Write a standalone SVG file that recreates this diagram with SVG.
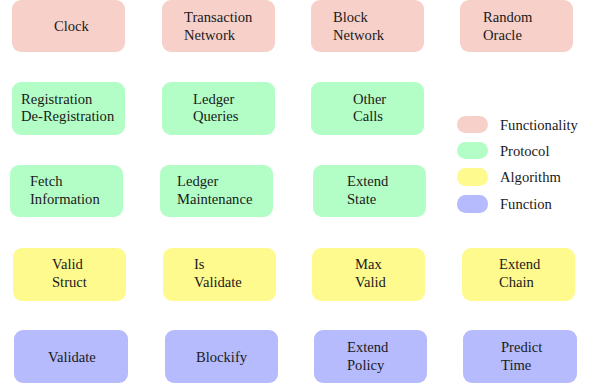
<svg xmlns="http://www.w3.org/2000/svg" width="596" height="390" viewBox="0 0 596 390">
<style>
rect{rx:9px;ry:9px}
.f{fill:#f6d0c9}
.p{fill:#b3fec6}
.a{fill:#fffa8e}
.u{fill:#b5bbfd}
text{font-family:"Liberation Serif","Times New Roman",serif;font-size:14.6px;fill:#1a1a1a}
.lg{rx:8.5px;ry:8.5px}
</style>
<g id="connectors"/>
<g id="clock"><rect class="f" x="12" y="0" width="113" height="52"/><text x="54" y="31">Clock</text></g>
<g id="transaction-network"><rect class="f" x="162" y="0" width="113" height="52"/><text x="184" y="22">Transaction</text><text x="184" y="39.5">Network</text></g>
<g id="block-network"><rect class="f" x="311" y="0" width="113" height="52"/><text x="333" y="22">Block</text><text x="333" y="39.5">Network</text></g>
<g id="random-oracle"><rect class="f" x="460" y="0" width="113" height="52"/><text x="483" y="22">Random</text><text x="483" y="39.5">Oracle</text></g>

<g id="registration"><rect class="p" x="12" y="82" width="113" height="53"/><text x="21" y="104">Registration</text><text x="21" y="121">De-Registration</text></g>
<g id="ledger-queries"><rect class="p" x="162" y="82" width="113" height="53"/><text x="193" y="104">Ledger</text><text x="193" y="121">Queries</text></g>
<g id="other-calls"><rect class="p" x="311" y="82" width="113" height="53"/><text x="353" y="104">Other</text><text x="353" y="121">Calls</text></g>

<g id="fetch-information"><rect class="p" x="10" y="165" width="113" height="52"/><text x="30" y="186">Fetch</text><text x="30" y="203.5">Information</text></g>
<g id="ledger-maintenance"><rect class="p" x="160" y="165" width="113" height="52"/><text x="177" y="186">Ledger</text><text x="177" y="203.5">Maintenance</text></g>
<g id="extend-state"><rect class="p" x="313" y="165" width="113" height="52"/><text x="347" y="186">Extend</text><text x="347" y="203.5">State</text></g>

<g id="valid-struct"><rect class="a" x="13" y="248" width="113" height="53"/><text x="52" y="269">Valid</text><text x="52" y="287">Struct</text></g>
<g id="is-validate"><rect class="a" x="163" y="248" width="113" height="53"/><text x="194" y="269">Is</text><text x="194" y="287">Validate</text></g>
<g id="max-valid"><rect class="a" x="312" y="248" width="113" height="53"/><text x="355" y="269">Max</text><text x="355" y="287">Valid</text></g>
<g id="extend-chain"><rect class="a" x="462" y="248" width="113" height="53"/><text x="499" y="269">Extend</text><text x="499" y="287">Chain</text></g>

<g id="validate"><rect class="u" x="14" y="330" width="114" height="53"/><text x="48" y="362">Validate</text></g>
<g id="blockify"><rect class="u" x="165" y="330" width="113" height="53"/><text x="196" y="362">Blockify</text></g>
<g id="extend-policy"><rect class="u" x="314" y="330" width="113" height="53"/><text x="347" y="352">Extend</text><text x="347" y="370">Policy</text></g>
<g id="predict-time"><rect class="u" x="463" y="330" width="114" height="53"/><text x="501" y="352">Predict</text><text x="501" y="370">Time</text></g>

<g id="legend">
<rect class="f lg" x="457" y="116" width="31" height="17"/><text x="500" y="130">Functionality</text>
<rect class="p lg" x="457" y="142" width="31" height="17"/><text x="500" y="156">Protocol</text>
<rect class="a lg" x="457" y="168" width="31" height="18"/><text x="500" y="182">Algorithm</text>
<rect class="u lg" x="457" y="195" width="31" height="18"/><text x="500" y="209">Function</text>
</g>
</svg>
